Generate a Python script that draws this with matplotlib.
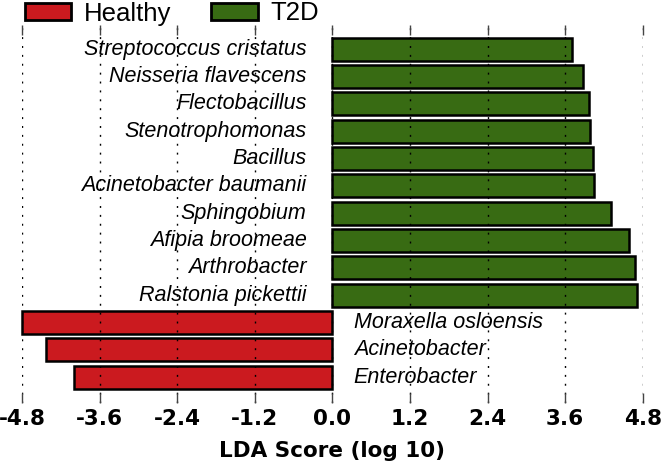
import matplotlib
matplotlib.use("Agg")
import matplotlib.pyplot as plt
from matplotlib.patches import Patch

taxa = ["Streptococcus cristatus", "Neisseria flavescens", "Flectobacillus",
        "Stenotrophomonas", "Bacillus", "Acinetobacter baumanii", "Sphingobium",
        "Afipia broomeae", "Arthrobacter", "Ralstonia pickettii",
        "Moraxella osloensis", "Acinetobacter", "Enterobacter"]
lda = [3.70, 3.88, 3.97, 3.98, 4.03, 4.05, 4.31, 4.59, 4.68, 4.71,
       -4.80, -4.43, -4.00]
groups = ["T2D"] * 10 + ["Healthy"] * 3
xticks = [-4.8, -3.6, -2.4, -1.2, 0.0, 1.2, 2.4, 3.6, 4.8]
colors = {"Healthy": "#CB1A1F", "T2D": "#386B13"}

W, H = 663, 470
fig = plt.figure(figsize=(W / 100, H / 100), dpi=100)
ax = fig.add_axes([22 / W, 1 - 403 / H, (642.7 - 22) / W, (403 - 25) / H])

ypos = list(range(len(taxa)))
ax.barh(ypos, lda, height=0.84, color=[colors[g] for g in groups],
        edgecolor="black", linewidth=1.8, zorder=1, clip_on=False)

for y, name, v in zip(ypos, taxa, lda):
    if v > 0:
        ax.text(-0.4, y, name, ha="right", va="center", style="italic",
                family="Liberation Sans", fontsize=15.5, zorder=3)
    else:
        ax.text(0.33, y, name, ha="left", va="center", style="italic",
                family="Liberation Sans", fontsize=15.5, zorder=3)

ax.set_xlim(-4.8, 4.8)
ax.set_ylim(12.95, -0.89)
ax.set_yticks([])
ax.set_xticks(xticks)
ax.set_xticklabels([f"{t:.1f}" for t in xticks],
                   fontsize=15.5, fontweight="bold", family="DejaVu Sans")
ax.tick_params(axis="x", which="both", direction="in", length=7.5, width=1,
               color="#444444", top=True, bottom=True, pad=4)
for s in ax.spines.values():
    s.set_visible(False)
ax.set_axisbelow(False)
ax.xaxis.grid(True, color="black", linewidth=1.0, linestyle=(0, (1.4, 5)))
ax.set_xlabel("LDA Score (log 10)", fontsize=15.5, fontweight="bold",
              family="DejaVu Sans", labelpad=9)

handles = [Patch(facecolor=colors["Healthy"], edgecolor="black", linewidth=2, label="Healthy"),
           Patch(facecolor=colors["T2D"], edgecolor="black", linewidth=2, label="T2D")]
fig.legend(handles=handles, loc="center left", bbox_to_anchor=(25 / W, 1 - 13.5 / H),
           ncol=2, frameon=False, prop={"family": "Liberation Sans", "size": 18.5},
           handlelength=1.8, handleheight=0.68, handletextpad=0.5,
           columnspacing=1.55, borderpad=0, borderaxespad=0)

fig.savefig("out.png", dpi=100)
